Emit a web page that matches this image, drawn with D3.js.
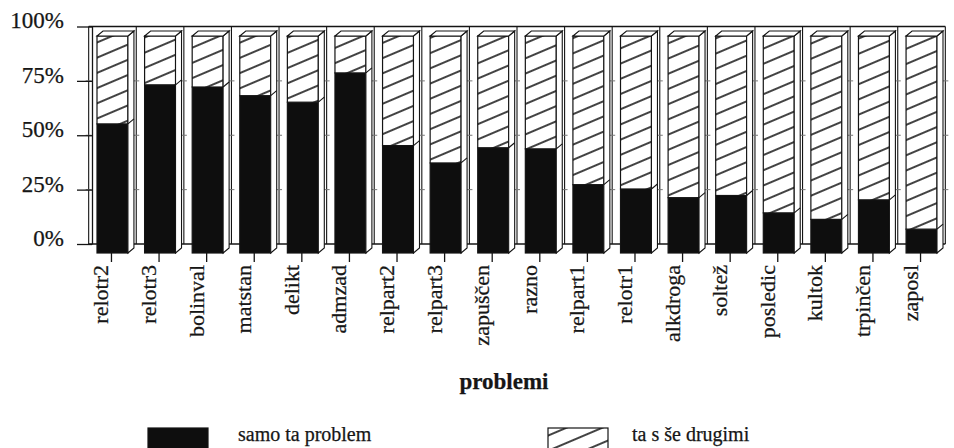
<!DOCTYPE html>
<html>
<head>
<meta charset="utf-8">
<script src="https://cdn.jsdelivr.net/npm/d3@7"></script>
<style>
  body { margin: 0; background: #fff; }
  text { font-family: "Liberation Serif", "Times New Roman", serif; fill: #161616; stroke: #161616; stroke-width: 0.25px; }
</style>
</head>
<body>
<svg id="chart" width="954" height="448"></svg>
<script>
// categories and shares (in %)
const categories = ["relotr2", "relotr3", "bolinval", "matstan", "delikt", "admzad", "relpart2", "relpart3",
  "zapuščen", "razno", "relpart1", "relotr1", "alkdroga", "soltež", "posledic", "kultok", "trpinčen", "zaposl"];
const samoTaProblem = [59.5, 77.5, 76.5, 72.5, 69.5, 83, 49.5, 41.5, 48.5, 48, 31.5, 29.5, 25.5, 26.5, 18.5, 15.5, 24.5, 11];
const taSSeDrugimi = [40.5, 22.5, 23.5, 27.5, 30.5, 17, 50.5, 58.5, 51.5, 52, 68.5, 70.5, 74.5, 73.5, 81.5, 84.5, 75.5, 89];
const seriesNames = ["samo ta problem", "ta s še drugimi"];
const yTicks = [0, 25, 50, 75, 100];
const yTickLabels = ["0%", "25%", "50%", "75%", "100%"];

var svg = d3.select("#chart");
const ink = "#141414";
let depthX = 6, depthY = -5;

svg.append("defs")
  .append("pattern")
  .attr("id", "hatch")
  .attr("patternUnits", "userSpaceOnUse")
  .attr("width", 14).attr("height", 14)
  .attr("patternTransform", "rotate(-23)")
  .call(function (p) {
    p.append("rect").attr("width", 14).attr("height", 14).attr("fill", "#fff");
    p.append("line").attr("x1", 0).attr("x2", 14).attr("y1", 7).attr("y2", 7)
      .attr("stroke", ink).attr("stroke-width", 1.6);
  });

const fills = ["#0e0e0e", "url(#hatch)"];

var x = d3.scaleBand().domain(categories).range([97, 937]).paddingInner(0.35).paddingOuter(0);
var yFront = d3.scaleLinear().domain([0, 100]).range([253, 36]);
var yBack = d3.scaleLinear().domain([0, 100]).range([244, 26.5]);
let bw = x.bandwidth();
let gap = x.step() - bw;

// back wall: slot dividers, top and floor lines
let bounds = categories.map(function (c) { return x(c) - gap / 2; });
bounds.push(x(categories[categories.length - 1]) + bw + gap / 2);

svg.selectAll(".divider")
  .data(bounds)
  .join("line")
  .attr("class", "divider")
  .attr("x1", d => d).attr("x2", d => d)
  .attr("y1", yBack(100)).attr("y2", yBack(0))
  .attr("stroke", ink).attr("stroke-width", 1.1);

svg.selectAll(".gridmark")
  .data(d3.cross(bounds, [25, 50, 75]))
  .join("line")
  .attr("class", "gridmark")
  .attr("x1", d => d[0] - 3).attr("x2", d => d[0] + 3)
  .attr("y1", d => yBack(d[1])).attr("y2", d => yBack(d[1]))
  .attr("stroke", "#777").attr("stroke-width", 1);

svg.selectAll(".wallline")
  .data([100, 0])
  .join("line")
  .attr("class", "wallline")
  .attr("x1", bounds[0]).attr("x2", bounds[bounds.length - 1])
  .attr("y1", d => yBack(d)).attr("y2", d => yBack(d))
  .attr("stroke", ink).attr("stroke-width", 1.3);

// y axis
var yAxis = svg.append("g")
  .attr("transform", "translate(92,0)")
  .call(d3.axisLeft(yBack)
    .tickValues(yTicks)
    .tickFormat(function (d, i) { return yTickLabels[i]; })
    .tickSize(15)
    .tickSizeOuter(0)
    .tickPadding(13));
yAxis.selectAll("path, line").attr("stroke", ink).attr("stroke-width", 1.3);
yAxis.selectAll("text")
  .attr("y", -6)
  .style("font-size", "23px")
  .style("font-family", "'Liberation Serif', serif")
  .attr("fill", "#161616");

// stacked bars
let rows = categories.map(function (c, i) {
  return { cat: c, samo: samoTaProblem[i], drugi: taSSeDrugimi[i] };
});
var stacked = d3.stack().keys(["samo", "drugi"])(rows);

svg.selectAll(".layer")
  .data(stacked)
  .join("g")
  .attr("class", "layer")
  .attr("fill", function (d, i) { return fills[i]; })
  .selectAll("rect")
  .data(d => d)
  .join("rect")
  .attr("x", d => x(d.data.cat))
  .attr("width", bw)
  .attr("y", d => yFront(d[1]))
  .attr("height", d => yFront(d[0]) - yFront(d[1]))
  .attr("stroke", ink)
  .attr("stroke-width", 1.2);

// side and top faces
svg.selectAll(".side")
  .data(rows)
  .join("path")
  .attr("class", "side")
  .attr("d", function (d) {
    let x0 = x(d.cat) + bw;
    return `M${x0},${yFront(100)} L${x0 + depthX},${yFront(100) + depthY} L${x0 + depthX},${yFront(0) + depthY} L${x0},${yFront(0)} Z`;
  })
  .attr("fill", "#fff").attr("stroke", ink).attr("stroke-width", 1.1);

svg.selectAll(".top")
  .data(rows)
  .join("path")
  .attr("class", "top")
  .attr("d", function (d) {
    let x0 = x(d.cat), yt = yFront(100);
    return `M${x0},${yt} L${x0 + bw},${yt} L${x0 + bw + depthX},${yt + depthY} L${x0 + depthX},${yt + depthY} Z`;
  })
  .attr("fill", "#fff").attr("stroke", ink).attr("stroke-width", 1.1);

svg.selectAll(".split")
  .data(rows)
  .join("line")
  .attr("class", "split")
  .attr("x1", d => x(d.cat) + bw).attr("x2", d => x(d.cat) + bw + depthX)
  .attr("y1", d => yFront(d.samo)).attr("y2", d => yFront(d.samo) + depthY)
  .attr("stroke", ink).attr("stroke-width", 1.1);

// x axis
var xAxis = svg.append("g")
  .attr("transform", `translate(-1,${yFront(0)})`)
  .call(d3.axisBottom(x).tickSize(9).tickSizeOuter(0).tickPadding(0));
xAxis.select(".domain").remove();
xAxis.selectAll("line").attr("stroke", ink).attr("stroke-width", 1.3);
xAxis.selectAll("text")
  .attr("transform", "rotate(-90)")
  .attr("x", -12)
  .attr("y", -3)
  .attr("dy", 0)
  .style("text-anchor", "end")
  .style("font-size", "22px")
  .style("font-family", "'Liberation Serif', serif")
  .attr("fill", "#161616");

svg.append("text")
  .attr("x", 504).attr("y", 389)
  .attr("text-anchor", "middle")
  .style("font-size", "23px")
  .style("font-weight", "bold")
  .text("problemi");

// legend
let legendX = [148, 548];
var legend = svg.selectAll(".legend")
  .data(seriesNames)
  .join("g")
  .attr("class", "legend")
  .attr("transform", function (d, i) { return `translate(${legendX[i]},428)`; });

legend.append("rect")
  .attr("width", 60).attr("height", 26)
  .attr("fill", function (d, i) { return fills[i]; })
  .attr("stroke", ink).attr("stroke-width", 1.2);

legend.append("text")
  .attr("x", function (d, i) { return i === 0 ? 90 : 84; })
  .attr("y", 13)
  .style("font-size", "20px")
  .text(d => d);
</script>
</body>
</html>
